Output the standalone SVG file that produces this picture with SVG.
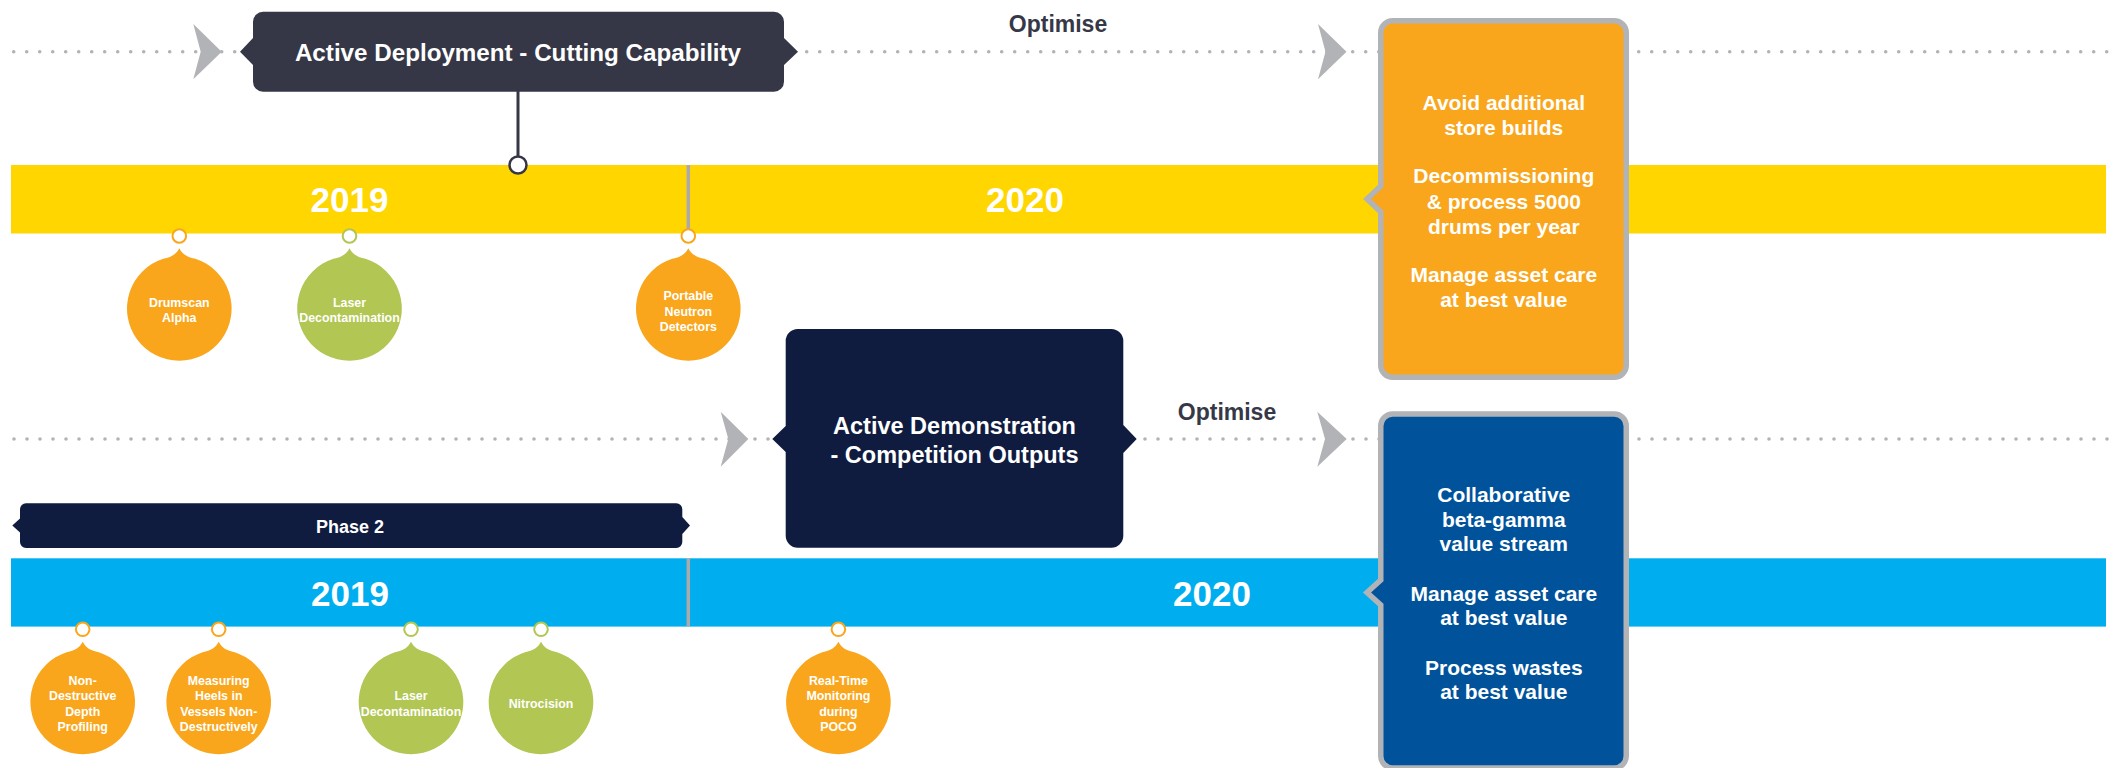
<svg xmlns="http://www.w3.org/2000/svg" xmlns:xlink="http://www.w3.org/1999/xlink" width="2114" height="768" viewBox="0 0 2114 768">
<style>
  text { font-family: "Liberation Sans", Arial, sans-serif; font-weight: bold; text-anchor: middle; }
  .dots { fill: none; stroke: #B1B3B6; stroke-width: 3.6; stroke-linecap: round; stroke-dasharray: 0 13; }
  .chev { fill: #B1B3B6; }
  .divider { stroke: #AAAAAA; stroke-width: 3.5; }
  .pin { font-size: 12.4px; fill: #FFFFFF; }
  .yr { font-size: 35px; fill: #FFFFFF; }
  .opt { font-size: 23px; fill: #363847; }
  .box { font-size: 21px; fill: #FFFFFF; }
  .o { fill: #F9A61D; }
  .g { fill: #B1C653; }
  .ring-o { fill: #FFFFFF; stroke: #F9A61D; stroke-width: 2; }
  .ring-g { fill: #FFFFFF; stroke: #B1C653; stroke-width: 2; }
</style>
<defs>
  <path id="drop" d="M0,-60.2 C3,-54.2 8,-51.2 16,-49.8 A52.3 52.3 0 1 1 -16,-49.8 C-8,-51.2 -3,-54.2 0,-60.2 Z"/>
</defs>
<rect width="2114" height="768" fill="#FFFFFF"/>

<g id="connectors">
  <line class="dots" x1="13.7" y1="51.7" x2="2114" y2="51.7"/>
  <line class="dots" x1="14" y1="439" x2="2114" y2="439"/>
  <polygon class="chev" points="193.3,24 221.7,51.7 193.3,79.3 200.7,51.7"/>
  <polygon class="chev" points="1318,24 1346.5,51.7 1318,79.3 1325.5,51.7"/>
  <polygon class="chev" points="720.7,411.7 748.3,439 720.7,466.7 728.3,439"/>
  <polygon class="chev" points="1317.3,411.7 1346.7,439 1317.3,466.7 1325,439"/>
</g>

<g id="band-top">
  <rect x="11" y="165" width="2095" height="68.5" fill="#FFD600"/>
  <line class="divider" x1="688.3" y1="165" x2="688.3" y2="233"/>
  <text class="yr" x="349.5" y="212">2019</text>
  <text class="yr" x="1025" y="212">2020</text>
</g>

<g id="band-bottom">
  <rect x="11" y="558.3" width="2095" height="68.3" fill="#00AEEF"/>
  <line class="divider" x1="688.3" y1="558.3" x2="688.3" y2="626.3"/>
  <text class="yr" x="350" y="605.5">2019</text>
  <text class="yr" x="1212" y="605.5">2020</text>
</g>

<g id="stem">
  <line x1="518" y1="91" x2="518" y2="156" stroke="#353746" stroke-width="3"/>
  <circle cx="518" cy="165" r="8.5" fill="#FFFFFF" stroke="#353746" stroke-width="2.5"/>
</g>

<g id="active-deployment">
  <path d="M263,11.7 H774 A10,10 0 0 1 784,21.7 V38 L798,51.7 L784,65 V81.7 A10,10 0 0 1 774,91.7 H263 A10,10 0 0 1 253,81.7 V65 L240,51.7 L253,38 V21.7 A10,10 0 0 1 263,11.7 Z" fill="#353746"/>
  <text x="518" y="61" font-size="24.2" fill="#FFFFFF">Active Deployment - Cutting Capability</text>
</g>

<g id="optimise-top">
  <text class="opt" x="1058" y="32">Optimise</text>
</g>

<g id="optimise-bottom">
  <text class="opt" x="1227" y="419.5">Optimise</text>
</g>

<g id="active-demonstration">
  <path d="M797.7,329 H1111.3 A12,12 0 0 1 1123.3,341 V425 L1136.7,439 L1123.3,453 V535.7 A12,12 0 0 1 1111.3,547.7 H797.7 A12,12 0 0 1 785.7,535.7 V452 L772.3,439 L785.7,426 V341 A12,12 0 0 1 797.7,329 Z" fill="#0F1C3F"/>
  <text x="954.5" y="434" font-size="23.5" fill="#FFFFFF">Active Demonstration</text>
  <text x="954.5" y="463" font-size="23.5" fill="#FFFFFF">- Competition Outputs</text>
</g>

<g id="phase-2">
  <path d="M26,503.3 H676.3 A6,6 0 0 1 682.3,509.3 V517 L690,525.5 L682.3,534 V542 A6,6 0 0 1 676.3,548 H26 A6,6 0 0 1 20,542 V532.5 L12.3,525.5 L20,518.5 V509.3 A6,6 0 0 1 26,503.3 Z" fill="#0F1C3F"/>
  <text x="350" y="533" font-size="18" fill="#FFFFFF">Phase 2</text>
</g>

<g id="outcomes-top">
  <path d="M1392.75,20.75 H1614.25 A12,12 0 0 1 1626.25,32.75 V365.25 A12,12 0 0 1 1614.25,377.25 H1392.75 A12,12 0 0 1 1380.75,365.25 V212 L1367,199 L1380.75,186 V32.75 A12,12 0 0 1 1392.75,20.75 Z" fill="#F9A61D" stroke="#B1B3B6" stroke-width="5.5" stroke-linejoin="miter"/>
  <text class="box" x="1503.8" y="109.5">Avoid additional</text>
  <text class="box" x="1503.8" y="135">store builds</text>
  <text class="box" x="1503.8" y="183">Decommissioning</text>
  <text class="box" x="1503.8" y="208.5">&amp; process 5000</text>
  <text class="box" x="1503.8" y="233.5">drums per year</text>
  <text class="box" x="1503.8" y="281.5">Manage asset care</text>
  <text class="box" x="1503.8" y="306.5">at best value</text>
</g>

<g id="outcomes-bottom">
  <path d="M1392.75,414 H1614.25 A12,12 0 0 1 1626.25,426 V756 A12,12 0 0 1 1614.25,768 H1392.75 A12,12 0 0 1 1380.75,756 V605 L1367,592.5 L1380.75,580 V426 A12,12 0 0 1 1392.75,414 Z" fill="#00529B" stroke="#B1B3B6" stroke-width="5.5"/>
  <text class="box" x="1503.8" y="501.5">Collaborative</text>
  <text class="box" x="1503.8" y="526.5">beta-gamma</text>
  <text class="box" x="1503.8" y="551">value stream</text>
  <text class="box" x="1503.8" y="600.7">Manage asset care</text>
  <text class="box" x="1503.8" y="625">at best value</text>
  <text class="box" x="1503.8" y="675">Process wastes</text>
  <text class="box" x="1503.8" y="699.3">at best value</text>
</g>

<g id="pin-drumscan" transform="translate(179.3,308.5)">
  <circle class="ring-o" cy="-72.5" r="6.8"/>
  <use xlink:href="#drop" href="#drop" class="o"/>
  <text class="pin" y="-1.8">Drumscan</text>
  <text class="pin" y="13.5">Alpha</text>
</g>

<g id="pin-laser-top" transform="translate(349.5,308.5)">
  <circle class="ring-g" cy="-72.5" r="6.8"/>
  <use xlink:href="#drop" href="#drop" class="g"/>
  <text class="pin" y="-1.8">Laser</text>
  <text class="pin" y="13.5">Decontamination</text>
</g>

<g id="pin-portable" transform="translate(688.3,308.5)">
  <circle class="ring-o" cy="-72.5" r="6.8"/>
  <use xlink:href="#drop" href="#drop" class="o"/>
  <text class="pin" y="-8.1">Portable</text>
  <text class="pin" y="7.3">Neutron</text>
  <text class="pin" y="22.6">Detectors</text>
</g>

<g id="pin-depth" transform="translate(82.7,702)">
  <circle class="ring-o" cy="-72.7" r="6.8"/>
  <use xlink:href="#drop" href="#drop" class="o"/>
  <text class="pin" y="-17">Non-</text>
  <text class="pin" y="-1.6">Destructive</text>
  <text class="pin" y="13.7">Depth</text>
  <text class="pin" y="29">Profiling</text>
</g>

<g id="pin-heels" transform="translate(218.7,702)">
  <circle class="ring-o" cy="-72.7" r="6.8"/>
  <use xlink:href="#drop" href="#drop" class="o"/>
  <text class="pin" y="-17">Measuring</text>
  <text class="pin" y="-1.6">Heels in</text>
  <text class="pin" y="13.7">Vessels Non-</text>
  <text class="pin" y="29">Destructively</text>
</g>

<g id="pin-laser-bottom" transform="translate(411,702)">
  <circle class="ring-g" cy="-72.7" r="6.8"/>
  <use xlink:href="#drop" href="#drop" class="g"/>
  <text class="pin" y="-1.6">Laser</text>
  <text class="pin" y="13.7">Decontamination</text>
</g>

<g id="pin-nitrocision" transform="translate(541,702)">
  <circle class="ring-g" cy="-72.7" r="6.8"/>
  <use xlink:href="#drop" href="#drop" class="g"/>
  <text class="pin" y="6.4">Nitrocision</text>
</g>

<g id="pin-realtime" transform="translate(838.4,702)">
  <circle class="ring-o" cy="-72.7" r="6.8"/>
  <use xlink:href="#drop" href="#drop" class="o"/>
  <text class="pin" y="-17">Real-Time</text>
  <text class="pin" y="-1.6">Monitoring</text>
  <text class="pin" y="13.7">during</text>
  <text class="pin" y="29">POCO</text>
</g>
</svg>
